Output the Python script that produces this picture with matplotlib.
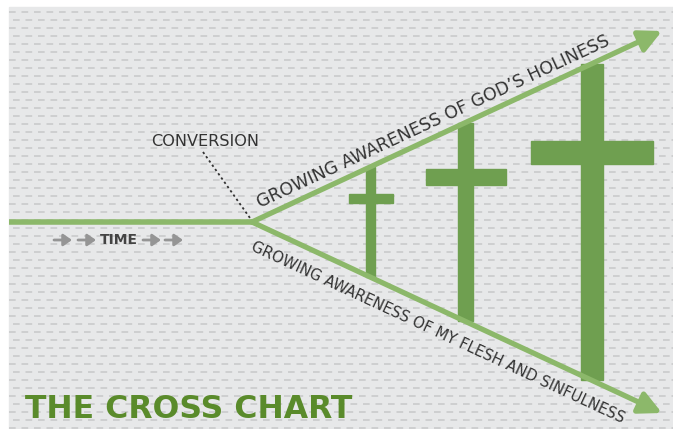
import matplotlib.pyplot as plt
import numpy as np
from matplotlib.patches import Rectangle

# diagram geometry (pixel coordinates of the 673x429 canvas, y down)
vertex = (252, 222)
tip_up = (662, 31)
tip_down = (662, 413)

cross_x = [370.5, 465.5, 592]
cross_stem = [9, 15, 22]
cross_arm = [44, 80, 122]
cross_bar_y = [198.5, 177, 152.5]
cross_bar_h = [9, 16, 23]

label_up = "GROWING AWARENESS OF GOD’S HOLINESS"
label_down = "GROWING AWARENESS OF MY FLESH AND SINFULNESS"

line_col = '#8cb86a'
cross_col = '#6f9f50'
title_col = '#5a8b2b'
text_col = '#333333'

fig = plt.figure(figsize=(6.73, 4.29), dpi=100)
ax = fig.add_axes([0, 0, 1, 1])
ax.set_xlim(0, 673)
ax.set_ylim(429, 0)
ax.axis('off')

# textured background
ax.add_patch(Rectangle((9, 7), 673, 430, color='#e7e8e9', zorder=0))
for i, y in enumerate(np.arange(12, 429, 8)):
	off = 0 if i % 2 == 0 else 4
	ax.plot([9 + off, 673], [y, y], color='#c9cacb', lw=1.2, dashes=(4, 3.5), zorder=1)


def line_y(x, tip):
	return vertex[1] + (x - vertex[0]) * (tip[1] - vertex[1]) / (tip[0] - vertex[0])


# crosses
for x, w, arm, by, bh in zip(cross_x, cross_stem, cross_arm, cross_bar_y, cross_bar_h):
	top = line_y(x, tip_up)
	bot = line_y(x, tip_down)
	ax.add_patch(Rectangle((x - w / 2, top), w, bot - top, color=cross_col, zorder=2))
	ax.add_patch(Rectangle((x - arm / 2, by - bh / 2), arm, bh, color=cross_col, zorder=2))

# time line and the two arrows
ax.plot([9, vertex[0]], [vertex[1], vertex[1]], color=line_col, lw=4, solid_capstyle='butt', zorder=3)
for tip in (tip_up, tip_down):
	ax.annotate('', xy=tip, xytext=vertex,
				arrowprops=dict(arrowstyle='-|>,head_length=0.9,head_width=0.45', lw=3.8,
								color=line_col, shrinkA=0, shrinkB=0, mutation_scale=15),
				zorder=3)

# conversion pointer
ax.plot([203, 250], [152, 218], color='#333333', lw=1.3, dashes=(1.3, 1.6), zorder=3)
ax.text(205.5, 142, "CONVERSION", ha='center', va='center', fontsize=11.6,
		family='DejaVu Sans', color=text_col, zorder=4)

# time label
ax.text(119, 240, "TIME", ha='center', va='center', fontsize=10, fontweight='bold',
		family='DejaVu Sans', color='#444444', zorder=4)
for ax_x in (63, 87, 152, 174):
	ax.annotate('', xy=(ax_x + 9, 240), xytext=(ax_x - 9, 240),
				arrowprops=dict(arrowstyle='-|>,head_length=0.5,head_width=0.35', lw=2,
								color='#959595', shrinkA=0, shrinkB=0, mutation_scale=10),
				zorder=4)

# labels along the arrows
ang_up = np.degrees(np.arctan2(vertex[1] - tip_up[1], tip_up[0] - vertex[0]))
ang_dn = -np.degrees(np.arctan2(tip_down[1] - vertex[1], tip_down[0] - vertex[0]))
ax.text(260, 208, label_up, rotation=ang_up, rotation_mode='anchor', ha='left', va='baseline',
		fontsize=12.5, family='DejaVu Sans', color=text_col, zorder=4)
ax.text(255, 239, label_down, rotation=ang_dn, rotation_mode='anchor', ha='left', va='top',
		fontsize=10.7, family='DejaVu Sans', color=text_col, zorder=4)

# title
ax.text(25, 410, "THE CROSS CHART", ha='left', va='center', fontsize=22.7, fontweight='bold',
		family='DejaVu Sans', color=title_col, zorder=4)

plt.savefig('out.png', dpi=100)
